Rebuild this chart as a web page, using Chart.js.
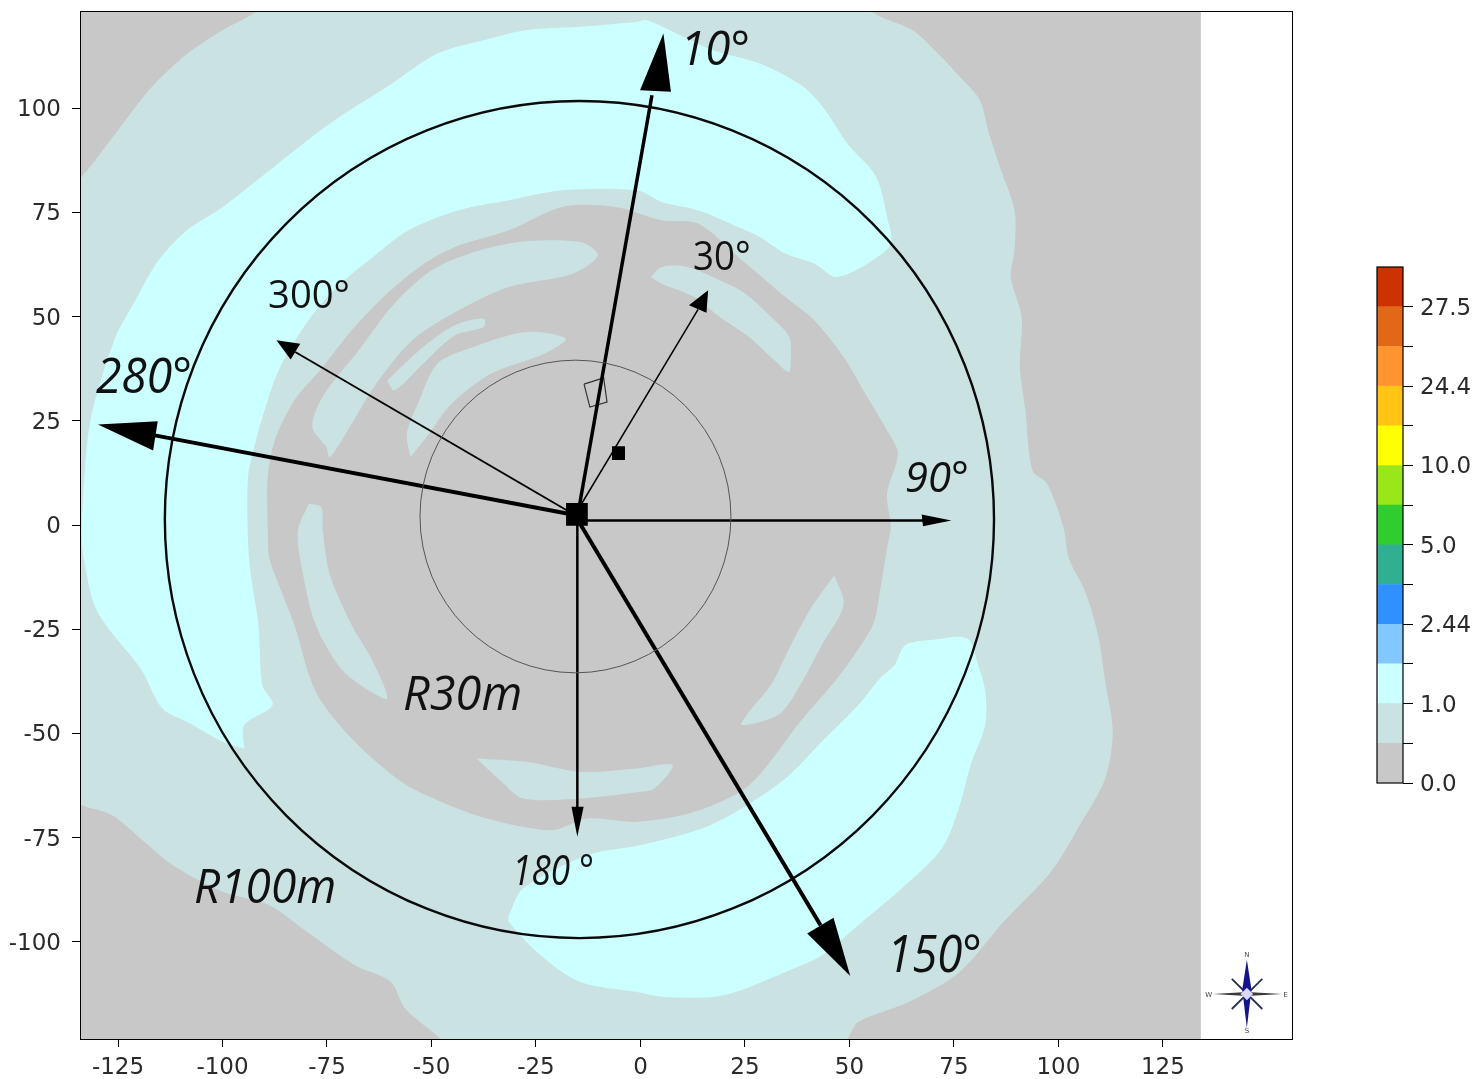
<!DOCTYPE html>
<html>
<head>
<meta charset="utf-8">
<title>Wind sector map</title>
<style>
html,body{margin:0;padding:0;background:#fff;width:1479px;height:1079px;overflow:hidden}
canvas{position:absolute;display:block}
</style>
<script src="https://cdn.jsdelivr.net/npm/chart.js@4/dist/chart.umd.min.js"></script>
</head>
<body>
<canvas id="map" width="1479" height="1079" style="left:0;top:0"></canvas>
<canvas id="bar" width="139" height="550" style="left:1340px;top:250px"></canvas>
<script>
// ---- axes
const xTicks = [-125,-100,-75,-50,-25,0,25,50,75,100,125];
const yTicks = [-100,-75,-50,-25,0,25,50,75,100];
const xRange = [-134.1,155.9];
const yRange = [-123.3,123.3];

// ---- colour bar
const levelLabels = ['0.0','','1.0','','2.44','','5.0','','10.0','','24.4','','27.5'];
const levelColors = ['#c8c8c8','#cae3e2','#ccffff','#80c8ff','#3090ff','#30b090','#30cc30','#99e619','#ffff00','#ffc414','#ff9430','#e06818','#cc3300'];

// ---- field regions (metres)
const fieldExtent = [[-134.1,-123.3],[134.1,-123.3],[134.1,123.3],[-134.1,123.3],[-134.1,-123.3]];
const lowBand = [[-140,78],[-133.7,83.5],[-125.6,93.9],[-117,105],[-108.5,113],[-100,118.7],[-92.2,123],[-85,130],[50,130],[55.6,123],[65.1,118.7],[71.2,113.1],[76.4,107.5],[81.2,101.9],[83.4,93.9],[86,85.9],[89.5,75.5],[89.5,65.9],[88.6,59.5],[91.2,49.9],[90.8,37.9],[92.1,27.5],[93.8,13.1],[97.3,9.9],[101.2,-0.5],[102.5,-8],[106.4,-16],[109.5,-26.4],[111.2,-37.6],[113,-49.6],[111.2,-60.8],[105.1,-72],[98.2,-83.2],[86.9,-95.2],[76.4,-107.2],[64.2,-114.4],[52.1,-119.2],[49.5,-123.3],[44,-130],[-42,-130],[-47.8,-123.3],[-56.3,-116],[-59.7,-109.6],[-68.3,-105.6],[-80.3,-97.2],[-88.8,-91.2],[-99.9,-88],[-111.9,-81.6],[-118.7,-76],[-126.4,-69.6],[-133.7,-67.2],[-140,-64],[-140,78]];
const midArcNorth = [[-94.8,-53.6],[-99.9,-52],[-108.5,-47.2],[-114.4,-44],[-119.6,-34.4],[-127.3,-24.8],[-130.7,-19.2],[-133.2,-8],[-133.7,-1.3],[-132.4,19.5],[-130.7,29.1],[-125.6,45.1],[-121.3,53.1],[-115.3,63.5],[-108.5,70.7],[-99.9,76.3],[-89.7,84.3],[-74.3,96.3],[-60.6,105.1],[-48.6,113.1],[-37.5,116.3],[-27.3,118.7],[-14.4,119.5],[-0.8,120.7],[1.6,121.1],[17.3,113.9],[28.6,110.7],[39,105.1],[44.2,99.5],[49.5,91.5],[56.4,83.5],[59,73.9],[59.9,67.5],[55.6,63.5],[46.9,59.5],[41.6,62.7],[34.7,65.1],[28.6,69.1],[23.4,71.5],[13.8,75.5],[5.1,77.5],[-0.8,80.3],[-18.7,80.3],[-31.5,77.9],[-43.5,75.5],[-55.5,70.7],[-64,64.3],[-72.6,57.1],[-79.4,49.1],[-86.2,37.9],[-89.7,28.3],[-92.2,19.5],[-93.9,11.5],[-93.9,-4],[-93.1,-12.8],[-91.4,-24],[-90.5,-38.4],[-88,-43.2],[-94.8,-48],[-94.8,-53.6]];
const midArcSouth = [[-31.5,-93.6],[-28.1,-87.2],[-12.7,-79.2],[-0.1,-76.8],[14.7,-72.8],[24.2,-68],[34.7,-60.8],[43.4,-52],[52.1,-43.2],[57.3,-36.8],[60.8,-33.6],[63.4,-28.8],[69.5,-27.6],[78.2,-27.2],[80.8,-33.6],[82.5,-40],[82.5,-48],[79,-57.6],[76.4,-67.2],[72.1,-77.6],[62.5,-87.2],[52.1,-96],[43.4,-103.2],[34.7,-107.2],[19.9,-112.8],[6,-113.2],[-0.8,-112],[-14.4,-109.6],[-23.9,-103.2],[-31.5,-95.2],[-31.5,-93.6]];
const coreBlob = [[-89.2,-1.3],[-89.2,11.5],[-87.5,20.3],[-82.8,29.9],[-76,37.9],[-69.1,46.7],[-61.5,54.7],[-52.9,61.9],[-44.4,66.7],[-31.5,70.7],[-18.7,76.3],[-5.9,76.3],[5.1,73.1],[13.8,72.3],[23.4,64.3],[34.7,54.7],[41.6,49.1],[48.6,40.3],[53.8,31.5],[59,22.7],[61.6,17.1],[59,7.5],[59.9,-0.5],[59,-5.6],[57.3,-16],[55.6,-24],[47.7,-36],[38.2,-47.2],[26,-62.4],[12.9,-68.8],[-0.8,-71.2],[-12.7,-70.4],[-21.3,-73.2],[-36.7,-70.4],[-48.6,-66],[-57.2,-61.6],[-69.1,-51.2],[-77.7,-40],[-82.8,-24],[-86.2,-15.2],[-88.8,-8],[-89.2,-1.3]];
const coreBandNW = [[-75.1,18.7],[-78.5,23.5],[-76,30.8],[-67.4,41.9],[-58.9,53.1],[-48.6,61.9],[-31.5,67.5],[-14.4,67.9],[-10.2,64.7],[-16.2,60.3],[-31.5,57.1],[-43.5,51.5],[-54.6,44.3],[-63.2,33.9],[-69.1,24.3],[-74.3,16.3],[-75.1,18.7]];
const coreBandInner = [[-55,16.3],[-55.9,21.9],[-52.9,29.9],[-48.6,38.7],[-40,42.7],[-27.3,46.3],[-17.9,44.7],[-23,41.1],[-35.8,36.3],[-45.2,29.1],[-51.2,21.1],[-55,16.3]];
const coreSlit = [[-60.6,34.7],[-52,42.7],[-44.4,47.9],[-37.5,49.5],[-37.5,47.5],[-44.4,45.5],[-52,38.7],[-58.9,32.3],[-60.6,34.7]];
const coreBandNE = [[2.5,59.5],[5.1,61.9],[11.2,61.9],[19,58.7],[25.1,55.5],[32.1,49.1],[35.6,45.1],[36,40.3],[35.5,36.7],[32.1,39.5],[26,45.1],[19,49.9],[12.9,54.7],[5.1,57.9],[2.5,59.5]];
const coreBandSE = [[46.4,-12],[48.6,-19.2],[43.4,-28.8],[37.3,-40],[32.9,-45.6],[24.2,-48],[26,-44.8],[31.2,-38.4],[35.6,-29.6],[40.8,-20],[46.4,-12]];
const coreBandS = [[-39.2,-56],[-27.3,-56.8],[-14.4,-59.2],[-0.8,-58.4],[7.7,-57.6],[3.4,-63.2],[-0.1,-64],[-14.4,-65.6],[-28.1,-65.6],[-33.2,-61.6],[-39.2,-56]];
const coreBandW = [[-79.4,5.1],[-76.4,4.3],[-76,-1.6],[-74.3,-12],[-69.1,-24],[-64,-32.8],[-60.6,-41.6],[-65.7,-39.2],[-71.7,-34.4],[-77.7,-24],[-80.7,-12],[-82,-1.6],[-79.4,5.1]];
const fieldLayers = [[lowBand,1],[midArcNorth,2],[midArcSouth,2],[coreBlob,0],[coreBandNW,1],[coreBandInner,1],[coreSlit,1],[coreBandNE,1],[coreBandSE,1],[coreBandS,1],[coreBandW,1]];

// ---- radial sectors: shaft [start,end], head [tip,base,base], line weight
const sector10  = {shaft:[[-15,2.4],[2.75,103.1]],     head:[[5.5,117.9],[7.3,103.9],[-0.1,104.3]],   w:3.5};
const sector30  = {shaft:[[-15.7,2.4],[13.8,51.7]],    head:[[16.2,56.3],[11.6,52.7],[15.8,50.9]],    w:1.5};
const sector90  = {shaft:[[-15.7,1.1],[67.7,1.1]],     head:[[74.4,1.1],[67.3,2.5],[67.6,-0.3]],      w:2.5};
const sector150 = {shaft:[[-15.7,2.4],[43.1,-96]],     head:[[50.2,-108.2],[39.9,-98],[46.2,-94.2]],  w:4};
const sector180 = {shaft:[[-15.1,0],[-15.1,-68]],      head:[[-15.1,-74.8],[-16.5,-67.6],[-13.6,-67.6]], w:2.5};
const sector280 = {shaft:[[-15.7,2.4],[-116.2,21.5]],  head:[[-129.8,24.1],[-115.5,24.9],[-116.6,17.9]], w:4};
const sector300 = {shaft:[[-15.7,2.4],[-82.6,41.5]],   head:[[-87.1,44.3],[-81.4,43.5],[-83.7,39.7]], w:2};
const sectors = [sector10,sector30,sector90,sector150,sector180,sector280,sector300];

// ---- site markers
const stackSquare = [[-17.8,5.3],[-12.6,5.3],[-12.6,-0.2],[-17.8,-0.2],[-17.8,5.3]];
const receptorSquare = [[-6.8,18.9],[-3.7,18.9],[-3.7,15.6],[-6.8,15.6],[-6.8,18.9]];
const buildingOutline = [[-13.5,33.8],[-8.8,35.3],[-8,29.5],[-12.1,28.3],[-13.5,33.8]];

// ---- range rings: centre x, centre y, radius x, radius y
const ringOuter = [-14.6,1.3,99.2,100.4];
const ringInner = [-15.55,2.04,37.2,37.5];

// ---- annotation text
const labelTexts    = ['10°','30°','300°','280°','90°','150°','180 °','R30m','R100m'];
const labelLeft     = [9.5,12.6,-89.1,-130.3,63.3,59,-30.7,-56.8,-106.8];
const labelRight    = [26.2,26.4,-69.5,-107.3,78.6,81.7,-11.1,-28.3,-72.8];
const labelBaseline = [110.3,61.2,52,31.7,7.9,-107.2,-86.3,-44.4,-90.6];
const labelSizes    = [48,40,39,50,42,51,42,48,48];
const labelItalic   = [true,false,false,true,true,true,true,true,true];

// ---- compass rose
const roseNS = [[145.1,-104.3],[146.2,-111.5],[145.1,-120.6],[144,-111.5],[145.1,-104.3]];
const roseEW = [[137,-112.5],[145.1,-112],[153.5,-112.5],[145.1,-113],[137,-112.5]];
const roseDiagA = [[141.5,-108.9],[148.8,-116.1]];
const roseDiagB = [[148.8,-108.9],[141.5,-116.1]];
const roseCore = [[145.1,-111],[146.6,-112.5],[145.1,-114],[143.6,-112.5],[145.1,-111]];
const roseLetters = ['N','S','W','E'];
const roseLetterX = [145.1,145.1,136,154.4];
const roseLetterY = [-103.3,-121.4,-112.7,-112.7];

const pts = a => a.map(p => ({x:p[0],y:p[1]}));
const datasets = [];
const addFill = (arr,color,t) => datasets.push({data:pts(arr),showLine:true,fill:'shape',backgroundColor:color,borderWidth:0,pointRadius:0,tension:t||0});
const addLine = (arr,color,w) => datasets.push({data:pts(arr),showLine:true,fill:false,borderColor:color,borderWidth:w,pointRadius:0,tension:0});

addFill(fieldExtent,levelColors[0]);
fieldLayers.forEach(l => addFill(l[0],levelColors[l[1]],0.3));
addLine(buildingOutline,'#333333',1.2);
sectors.forEach(s => {
  addLine(s.shaft,'#000000',s.w);
  addFill(s.head.concat([s.head[0]]),'#000000');
});
addFill(stackSquare,'#000000');
addFill(receptorSquare,'#000000');
addLine(roseDiagA,'#28304f',1.8);
addLine(roseDiagB,'#28304f',1.8);
addFill(roseNS,'#14148c');
addFill(roseEW,'#3a3a3a');
addFill(roseCore,'#d8d8f4');
datasets.forEach((d,i) => d.order = datasets.length - i);

const overlay = {
  id:'overlay',
  afterDatasetsDraw(chart){
    const {ctx,scales:{x,y},chartArea:a} = chart;
    const ring = (r,color,w) => {
      const cx = x.getPixelForValue(r[0]), cy = y.getPixelForValue(r[1]);
      const rx = x.getPixelForValue(r[0]+r[2]) - cx, ry = cy - y.getPixelForValue(r[1]+r[3]);
      ctx.save();ctx.strokeStyle=color;ctx.lineWidth=w;ctx.beginPath();ctx.ellipse(cx,cy,rx,ry,0,0,Math.PI*2);ctx.stroke();ctx.restore();
    };
    ring(ringOuter,'#0a0a0a',2.4);
    ring(ringInner,'#555555',1);
    labelTexts.forEach((t,i) => {
      const l = x.getPixelForValue(labelLeft[i]), r = x.getPixelForValue(labelRight[i]), b = y.getPixelForValue(labelBaseline[i]);
      ctx.save();
      ctx.font = (labelItalic[i]?'italic ':'') + labelSizes[i] + 'px "Open Sans"';
      ctx.fillStyle = '#111111';
      ctx.textBaseline = 'alphabetic';
      const k = (r-l)/ctx.measureText(t).width;
      ctx.translate(l,b);ctx.scale(k,1);
      ctx.fillText(t,0,0);
      ctx.restore();
    });
    ctx.save();
    ctx.font = '7px "DejaVu Sans"';ctx.fillStyle='#444444';ctx.textAlign='center';ctx.textBaseline='middle';
    roseLetters.forEach((t,i) => ctx.fillText(t,x.getPixelForValue(roseLetterX[i]),y.getPixelForValue(roseLetterY[i])));
    ctx.restore();
    ctx.save();ctx.strokeStyle='#000';ctx.lineWidth=1;
    ctx.strokeRect(Math.round(a.left)+.5,Math.round(a.top)+.5,Math.round(a.width),Math.round(a.height));
    ctx.restore();
  }
};

const tickFont = {family:'"DejaVu Sans"',size:23};
const tickColor = '#2a2a2a';
new Chart(document.getElementById('map'),{
  type:'scatter',
  data:{datasets},
  plugins:[overlay],
  options:{
    responsive:false,animation:false,
    layout:{padding:{left:0,top:11,right:187,bottom:0}},
    plugins:{legend:{display:false},tooltip:{enabled:false}},
    scales:{
      x:{type:'linear',min:xRange[0],max:xRange[1],
        afterBuildTicks:s=>{s.ticks=xTicks.map(v=>({value:v}));},
        afterFit:s=>{s.height=40;s.paddingLeft=0;s.paddingRight=0;},
        grid:{display:true,drawOnChartArea:false,drawTicks:true,tickLength:8,color:'#000',tickWidth:1},
        border:{display:false},
        ticks:{font:tickFont,color:tickColor,padding:7,maxRotation:0,autoSkip:false,callback:v=>String(v)}},
      y:{type:'linear',min:yRange[0],max:yRange[1],
        afterBuildTicks:s=>{s.ticks=yTicks.map(v=>({value:v}));},
        afterFit:s=>{s.width=80;s.paddingTop=0;s.paddingBottom=0;},
        grid:{display:true,drawOnChartArea:false,drawTicks:true,tickLength:8,color:'#000',tickWidth:1},
        border:{display:false},
        ticks:{font:tickFont,color:tickColor,padding:11,labelOffset:2,autoSkip:false,callback:v=>String(v)}}
    }
  }
});

const barFrame = {
  id:'barFrame',
  afterDraw(chart){
    const {ctx,chartArea:a} = chart;
    ctx.save();ctx.strokeStyle='#000';ctx.lineWidth=1.2;
    ctx.strokeRect(a.left,a.top,a.width,a.height);
    ctx.restore();
  }
};
new Chart(document.getElementById('bar'),{
  type:'bar',
  data:{labels:['level'],datasets:levelColors.map(c=>({data:[1],backgroundColor:c,borderWidth:0,barPercentage:1,categoryPercentage:1}))},
  plugins:[barFrame],
  options:{
    responsive:false,animation:false,
    layout:{padding:{left:37,top:17,right:0,bottom:17}},
    plugins:{legend:{display:false},tooltip:{enabled:false}},
    scales:{
      x:{stacked:true,display:false},
      y:{stacked:true,position:'right',min:0,max:levelColors.length,
        afterBuildTicks:s=>{s.ticks=levelLabels.map((_,i)=>({value:i}));},
        afterFit:s=>{s.width=76;s.paddingTop=0;s.paddingBottom=0;},
        grid:{display:true,drawOnChartArea:false,drawTicks:true,tickLength:10,color:'#000',tickWidth:1},
        border:{display:false},
        ticks:{font:tickFont,color:tickColor,padding:7,labelOffset:2,autoSkip:false,callback:(v,i)=>levelLabels[i]}}
    }
  }
});
</script>
</body>
</html>
